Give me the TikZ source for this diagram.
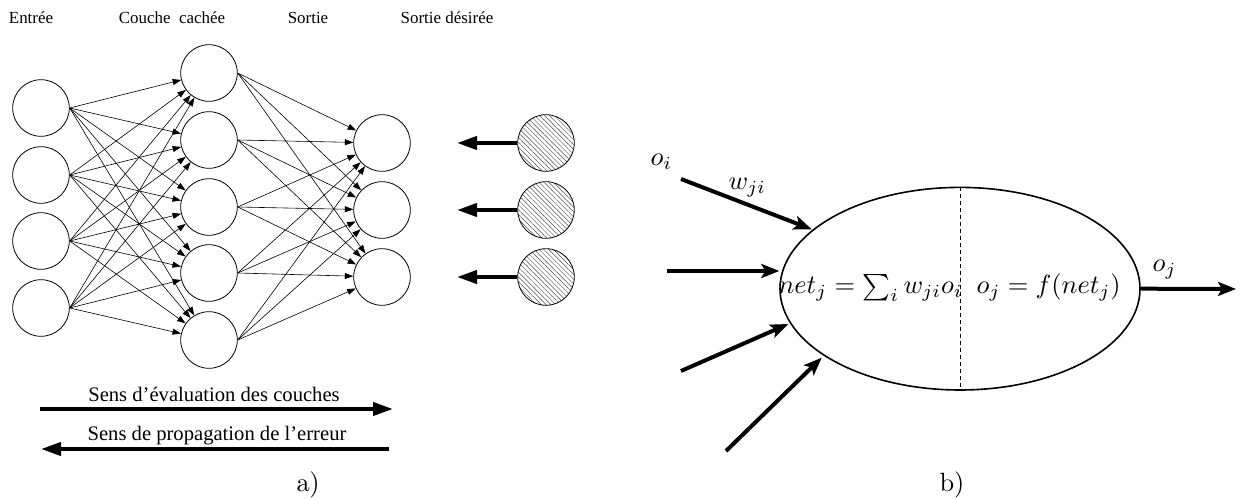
\documentclass[tikz,border=0pt]{standalone}
\usepackage[no-math]{fontspec}
\setmainfont{Liberation Serif}
\usetikzlibrary{arrows.meta,shapes.geometric,patterns.meta}
\begin{document}
\begin{tikzpicture}[x=1bp,y=-1bp,
  neuron/.style={circle,draw,line width=0.8bp,minimum size=56.6bp,inner sep=0},
  target/.style={neuron,pattern={Lines[angle=-45,distance=3.4bp,line width=0.45bp]},pattern color=black!70},
  link/.style={line width=0.6bp,-{Triangle[length=8.5bp,width=6bp]}},
  thickarrow/.style={line width=4bp,-{Triangle[length=20bp,width=13bp]}},
  inarrow/.style={line width=4bp,-{Stealth[length=18bp,width=14bp,inset=4bp]}},
  lab/.style={font=\fontsize{17}{18}\selectfont, anchor=base, inner sep=0},
  biglab/.style={font=\fontsize{20.7}{24}\selectfont, anchor=base, inner sep=0},
  mathlab/.style={scale=2.65, inner sep=0},
]
\useasboundingbox (0,0) rectangle (1251,499);

% headers
\node[lab] (tE) at (31,24) {Entrée};
\node[lab] (tC) at (172,24) {Couche\ \ cachée};
\node[lab] (tS) at (308,24) {Sortie};
\node[lab] (tD) at (447,24) {Sortie désirée};

% input layer
\foreach \i/\y in {1/108,2/175,3/241,4/308}
  \node[neuron] (i\i) at (41,\y) {};
% hidden layer
\foreach \i/\y in {1/73,2/140,3/207,4/273,5/340}
  \node[neuron] (h\i) at (209,\y) {};
% output layer
\foreach \i/\y in {1/143,2/210,3/277}
  \node[neuron] (o\i) at (382,\y) {};
% desired outputs
\foreach \i/\y in {1/143,2/210,3/277}
  \node[target] (d\i) at (546,\y) {};
\foreach \i/\y in {1/143,2/210,3/277}
  \coordinate (e\i) at (457,\y);

\foreach \a in {1,...,4}
  \foreach \b in {1,...,5}
    \draw[link] (i\a.east) -- (h\b);
\foreach \a in {1,...,5}
  \foreach \b in {1,...,3}
    \draw[link] (h\a.east) -- (o\b);
\foreach \i in {1,2,3}
  \draw[thickarrow] (d\i.west) -- (e\i);

% direction arrows
\coordinate (f1) at (40,409);
\coordinate (f2) at (393,409);
\coordinate (g1) at (389,449);
\coordinate (g2) at (41,449);
\draw[thickarrow] (f1) -- (f2);
\draw[thickarrow] (g1) -- (g2);
\node[biglab] (tEval) at (214,401) {Sens d’évaluation des couches};
\node[biglab] (tProp) at (217,440) {Sens de propagation de l’erreur};
\node[mathlab, anchor=base] (ta) at (308,491) {$\mathrm{a)}$};

% part b
\node[ellipse,draw,line width=1.6bp,minimum width=360bp,minimum height=202.6bp,inner sep=0] (E) at (960,288.7) {};
\draw[dashed,line width=0.8bp,dash pattern=on 4bp off 3bp] (E.north) -- (E.south);
\node[mathlab, anchor=base west] (net) at (778,294) {$net_j = \sum_i w_{ji}o_i$};
\node[mathlab, anchor=base west] (act) at (976,294) {$o_j = f(net_j)$};

\coordinate (s1) at (681,179);
\coordinate (s2) at (667,271);
\coordinate (s3) at (681,371);
\coordinate (s4) at (726,451);
\coordinate (t1) at (811.7,229.3);
\coordinate (t2) at (779.3,271);
\coordinate (t3) at (788.3,324);
\coordinate (t4) at (821.7,357.7);
\draw[inarrow] (s1) -- (t1);
\draw[inarrow] (s2) -- (t2);
\draw[inarrow] (s3) -- (t3);
\draw[inarrow] (s4) -- (t4);
\coordinate (out) at (1236,289);
\draw[inarrow] (E.east) -- (out);

\node[mathlab, anchor=base west] (loi) at (650,166) {$o_i$};
\node[mathlab, anchor=base west] (lw) at (728,190) {$w_{ji}$};
\node[mathlab, anchor=base west] (loj) at (1152,272) {$o_j$};
\node[mathlab, anchor=base] (tb) at (952,491) {$\mathrm{b)}$};
\end{tikzpicture}
\end{document}
